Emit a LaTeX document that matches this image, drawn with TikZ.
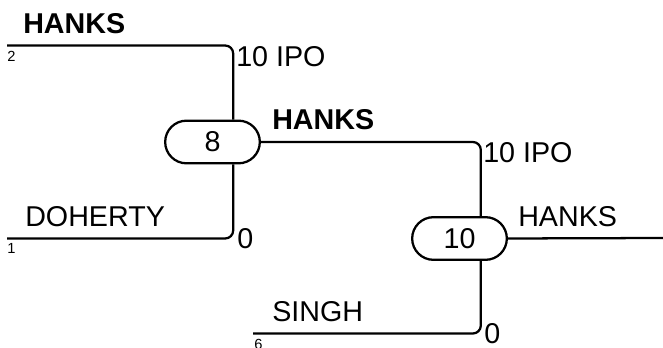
\documentclass[tikz,border=0pt]{standalone}
\usepackage{fontspec}
\setmainfont{Liberation Sans}
\usetikzlibrary{shapes.misc}
\begin{document}
\begin{tikzpicture}[x=0.75pt,y=-0.75pt,
  conn/.style={line width=1.7pt,rounded corners=6pt},
  pill/.style={draw,line width=1.7pt,rounded rectangle,minimum width=71pt,minimum height=32pt,inner sep=0pt,font=\fontsize{21.5}{25}\selectfont,fill=white},
  lbl/.style={inner sep=0pt,anchor=west,font=\fontsize{21.5}{25}\selectfont},
  blbl/.style={lbl,font=\fontsize{21.5}{25}\selectfont\bfseries},
  seed/.style={inner sep=0pt,anchor=west,font=\fontsize{11}{13}\selectfont}]
\useasboundingbox (0,0) rectangle (663,348);
\coordinate (l2) at (7,45.5);
\coordinate (l1) at (7,238.5);
\coordinate (l6) at (253,333.5);
\coordinate (out) at (663,238);
\node[pill] (n8) at (212.5,142) {8};
\node[pill] (n10) at (459.5,238.5) {10};
\draw[conn] (l2) -| ([xshift=15.5pt]n8.north);
\draw[conn] (l1) -| ([xshift=15.5pt]n8.south);
\draw[conn] ([xshift=-1pt]n8.east) -| ([xshift=16pt]n10.north);
\draw[conn] (l6) -| ([xshift=16pt]n10.south);
\draw[conn] ([xshift=-1pt]n10.east) -- (out);
\node[blbl] (t1) at (23,24) {HANKS};
\node[seed] (s2) at (7,56.5) {2};
\node[lbl] (t2) at (236,57) {10 IPO};
\node[lbl] (t3) at (25,217) {DOHERTY};
\node[seed] (s1) at (7,248.5) {1};
\node[lbl] (t4) at (237,238.5) {0};
\node[blbl] (t5) at (272,120) {HANKS};
\node[lbl] (t6) at (483,152.5) {10 IPO};
\node[lbl] (t7) at (518,217) {HANKS};
\node[lbl] (t8) at (272,312) {SINGH};
\node[seed] (s6) at (254,344) {6};
\node[lbl] (t9) at (484,334) {0};
\end{tikzpicture}
\end{document}
